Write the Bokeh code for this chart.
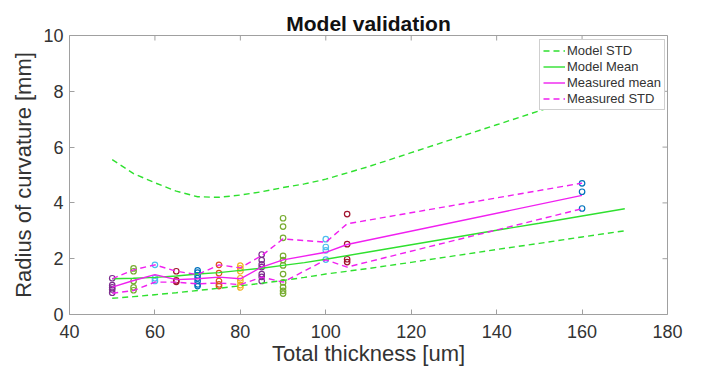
import math
from bokeh.plotting import figure
from bokeh.models import Range1d, Legend, LegendItem, FixedTicker, ColumnDataSource
from bokeh.embed import file_html
from bokeh.resources import INLINE

# ---- data ----
model_x = [50, 55, 60, 65, 70, 75, 80, 85, 90, 95, 100, 110, 120, 130, 140, 150, 160, 170]
model_std_hi = [5.55, 5.05, 4.72, 4.42, 4.22, 4.2, 4.28, 4.4, 4.55, 4.68, 4.85, 5.3, 5.8, 6.3, 6.8, 7.3, 7.8, 8.3]
model_std_lo = [0.58, 0.64, 0.71, 0.78, 0.86, 0.94, 1.03, 1.12, 1.22, 1.33, 1.45, 1.65, 1.87, 2.1, 2.33, 2.55, 2.78, 3.0]
model_mean = [1.28, 1.3, 1.33, 1.38, 1.45, 1.5, 1.58, 1.66, 1.76, 1.86, 1.98, 2.24, 2.5, 2.76, 3.02, 3.27, 3.53, 3.79]

meas_x = [50, 55, 60, 65, 70, 75, 80, 85, 90, 100, 105, 160]
meas_mean = [0.98, 1.22, 1.43, 1.25, 1.28, 1.34, 1.28, 1.7, 1.96, 2.23, 2.51, 4.27]
meas_std_hi = [1.28, 1.6, 1.78, 1.55, 1.43, 1.78, 1.67, 2.11, 2.71, 2.59, 3.25, 4.71]
meas_std_lo = [0.76, 0.86, 1.16, 1.16, 1.1, 1.13, 1.07, 1.34, 1.16, 1.96, 1.7, 3.79]

samples = {
    50: [1.3, 1.05, 0.97, 0.9, 0.78],
    55: [1.65, 1.55, 1.2, 0.97, 0.87],
    60: [1.78, 1.3, 1.2],
    65: [1.55, 1.22, 1.17],
    70: [1.58, 1.5, 1.4, 1.3, 1.2, 1.08, 1.02],
    75: [1.78, 1.48, 1.2, 1.08, 1.02],
    80: [1.75, 1.65, 1.55, 1.3, 1.2, 1.05, 0.97],
    85: [2.15, 1.95, 1.8, 1.7, 1.45, 1.35, 1.2],
    90: [3.45, 3.15, 2.75, 2.1, 1.95, 1.76, 1.45, 1.15, 0.98, 0.85, 0.75],
    100: [2.7, 2.42, 2.3, 1.97],
    105: [3.6, 2.52, 1.98, 1.88],
    160: [4.7, 4.4, 3.8],
}
group_colors = ["#7E2F8E", "#77AC30", "#4DBEEE", "#A2142F", "#0072BD", "#D95319",
                "#EDB120", "#7E2F8E", "#77AC30", "#4DBEEE", "#A2142F", "#0072BD"]

x_ticks = [40, 60, 80, 100, 120, 140, 160, 180]
y_ticks = [0, 2, 4, 6, 8, 10]
x_lo, x_hi = 40, 180
y_lo, y_hi = 0, 10

GREEN = "#2fe02f"
MAGENTA = "#f020f0"
FONT = "Liberation Sans"
TXT = "#333333"
BOX = "#a0a0a0"

p = figure(frame_width=598, frame_height=279, output_backend="svg", toolbar_location=None,
           x_range=Range1d(x_lo, x_hi), y_range=Range1d(y_lo, y_hi),
           min_border_left=69, min_border_right=37, min_border_top=35, min_border_bottom=57,
           title="Model validation")
p.background_fill_color = "white"
p.border_fill_color = "white"
p.grid.grid_line_color = None
p.outline_line_color = BOX
p.outline_line_width = 1

p.title.align = "center"
p.title.text_font = FONT
p.title.text_font_size = "21px"
p.title.text_font_style = "bold"
p.title.text_color = "#111111"
p.title.standoff = 2

# scatter samples
sx, sy, sc = [], [], []
for (k, vals), c in zip(samples.items(), group_colors):
    for v in vals:
        sx.append(k); sy.append(v); sc.append(c)
src = ColumnDataSource(dict(x=sx, y=sy, c=sc))
p.scatter("x", "y", source=src, marker="circle", size=5.5, fill_color=None,
          line_color="c", line_width=1.2)

r_mstd = p.line(model_x, model_std_hi, line_color=GREEN, line_width=1.4, line_dash="6 4")
p.line(model_x, model_std_lo, line_color=GREEN, line_width=1.4, line_dash="6 4")
r_mmean = p.line(model_x, model_mean, line_color=GREEN, line_width=1.4)
r_meas = p.line(meas_x, meas_mean, line_color=MAGENTA, line_width=1.4)
r_sstd = p.line(meas_x, meas_std_hi, line_color=MAGENTA, line_width=1.4, line_dash="6 4")
p.line(meas_x, meas_std_lo, line_color=MAGENTA, line_width=1.4, line_dash="6 4")

# box ticks on top and right edges (inward)
p.ray(x=x_ticks, y=[y_hi] * len(x_ticks), length=5, angle=-math.pi / 2,
      length_units="screen", line_color=BOX, line_width=1)
p.ray(x=[x_hi] * len(y_ticks), y=y_ticks, length=5, angle=math.pi,
      length_units="screen", line_color=BOX, line_width=1)

# axes
for ax in (p.xaxis[0], p.yaxis[0]):
    ax.major_label_text_font = FONT
    ax.major_label_text_font_size = "18px"
    ax.major_label_text_color = TXT
    ax.axis_label_text_font = FONT
    ax.axis_label_text_font_size = "22px"
    ax.axis_label_text_font_style = "normal"
    ax.axis_label_text_color = TXT
    ax.axis_line_color = None
    ax.major_tick_in = 5
    ax.major_tick_out = 0
    ax.major_tick_line_color = BOX
    ax.minor_tick_line_color = None
p.xaxis[0].ticker = FixedTicker(ticks=x_ticks)
p.yaxis[0].ticker = FixedTicker(ticks=y_ticks)
p.xaxis[0].axis_label = "Total thickness [um]"
p.yaxis[0].axis_label = "Radius of curvature [mm]"
p.xaxis[0].major_label_standoff = 10
p.xaxis[0].axis_label_standoff = 0
p.yaxis[0].major_label_standoff = 6
p.yaxis[0].axis_label_standoff = 4

legend = Legend(items=[
    LegendItem(label="Model STD", renderers=[r_mstd]),
    LegendItem(label="Model Mean", renderers=[r_mmean]),
    LegendItem(label="Measured mean", renderers=[r_meas]),
    LegendItem(label="Measured STD", renderers=[r_sstd]),
], location=(470, 204))
legend.label_text_font = FONT
legend.label_text_font_size = "13px"
legend.label_text_color = TXT
legend.label_height = 15
legend.glyph_height = 15
legend.glyph_width = 22
legend.label_standoff = 2
legend.spacing = 1
legend.padding = 3
legend.margin = 0
legend.border_line_color = BOX
legend.background_fill_color = "white"
legend.background_fill_alpha = 1.0
p.add_layout(legend, "center")

open("out.html", "w").write(file_html(p, INLINE))
